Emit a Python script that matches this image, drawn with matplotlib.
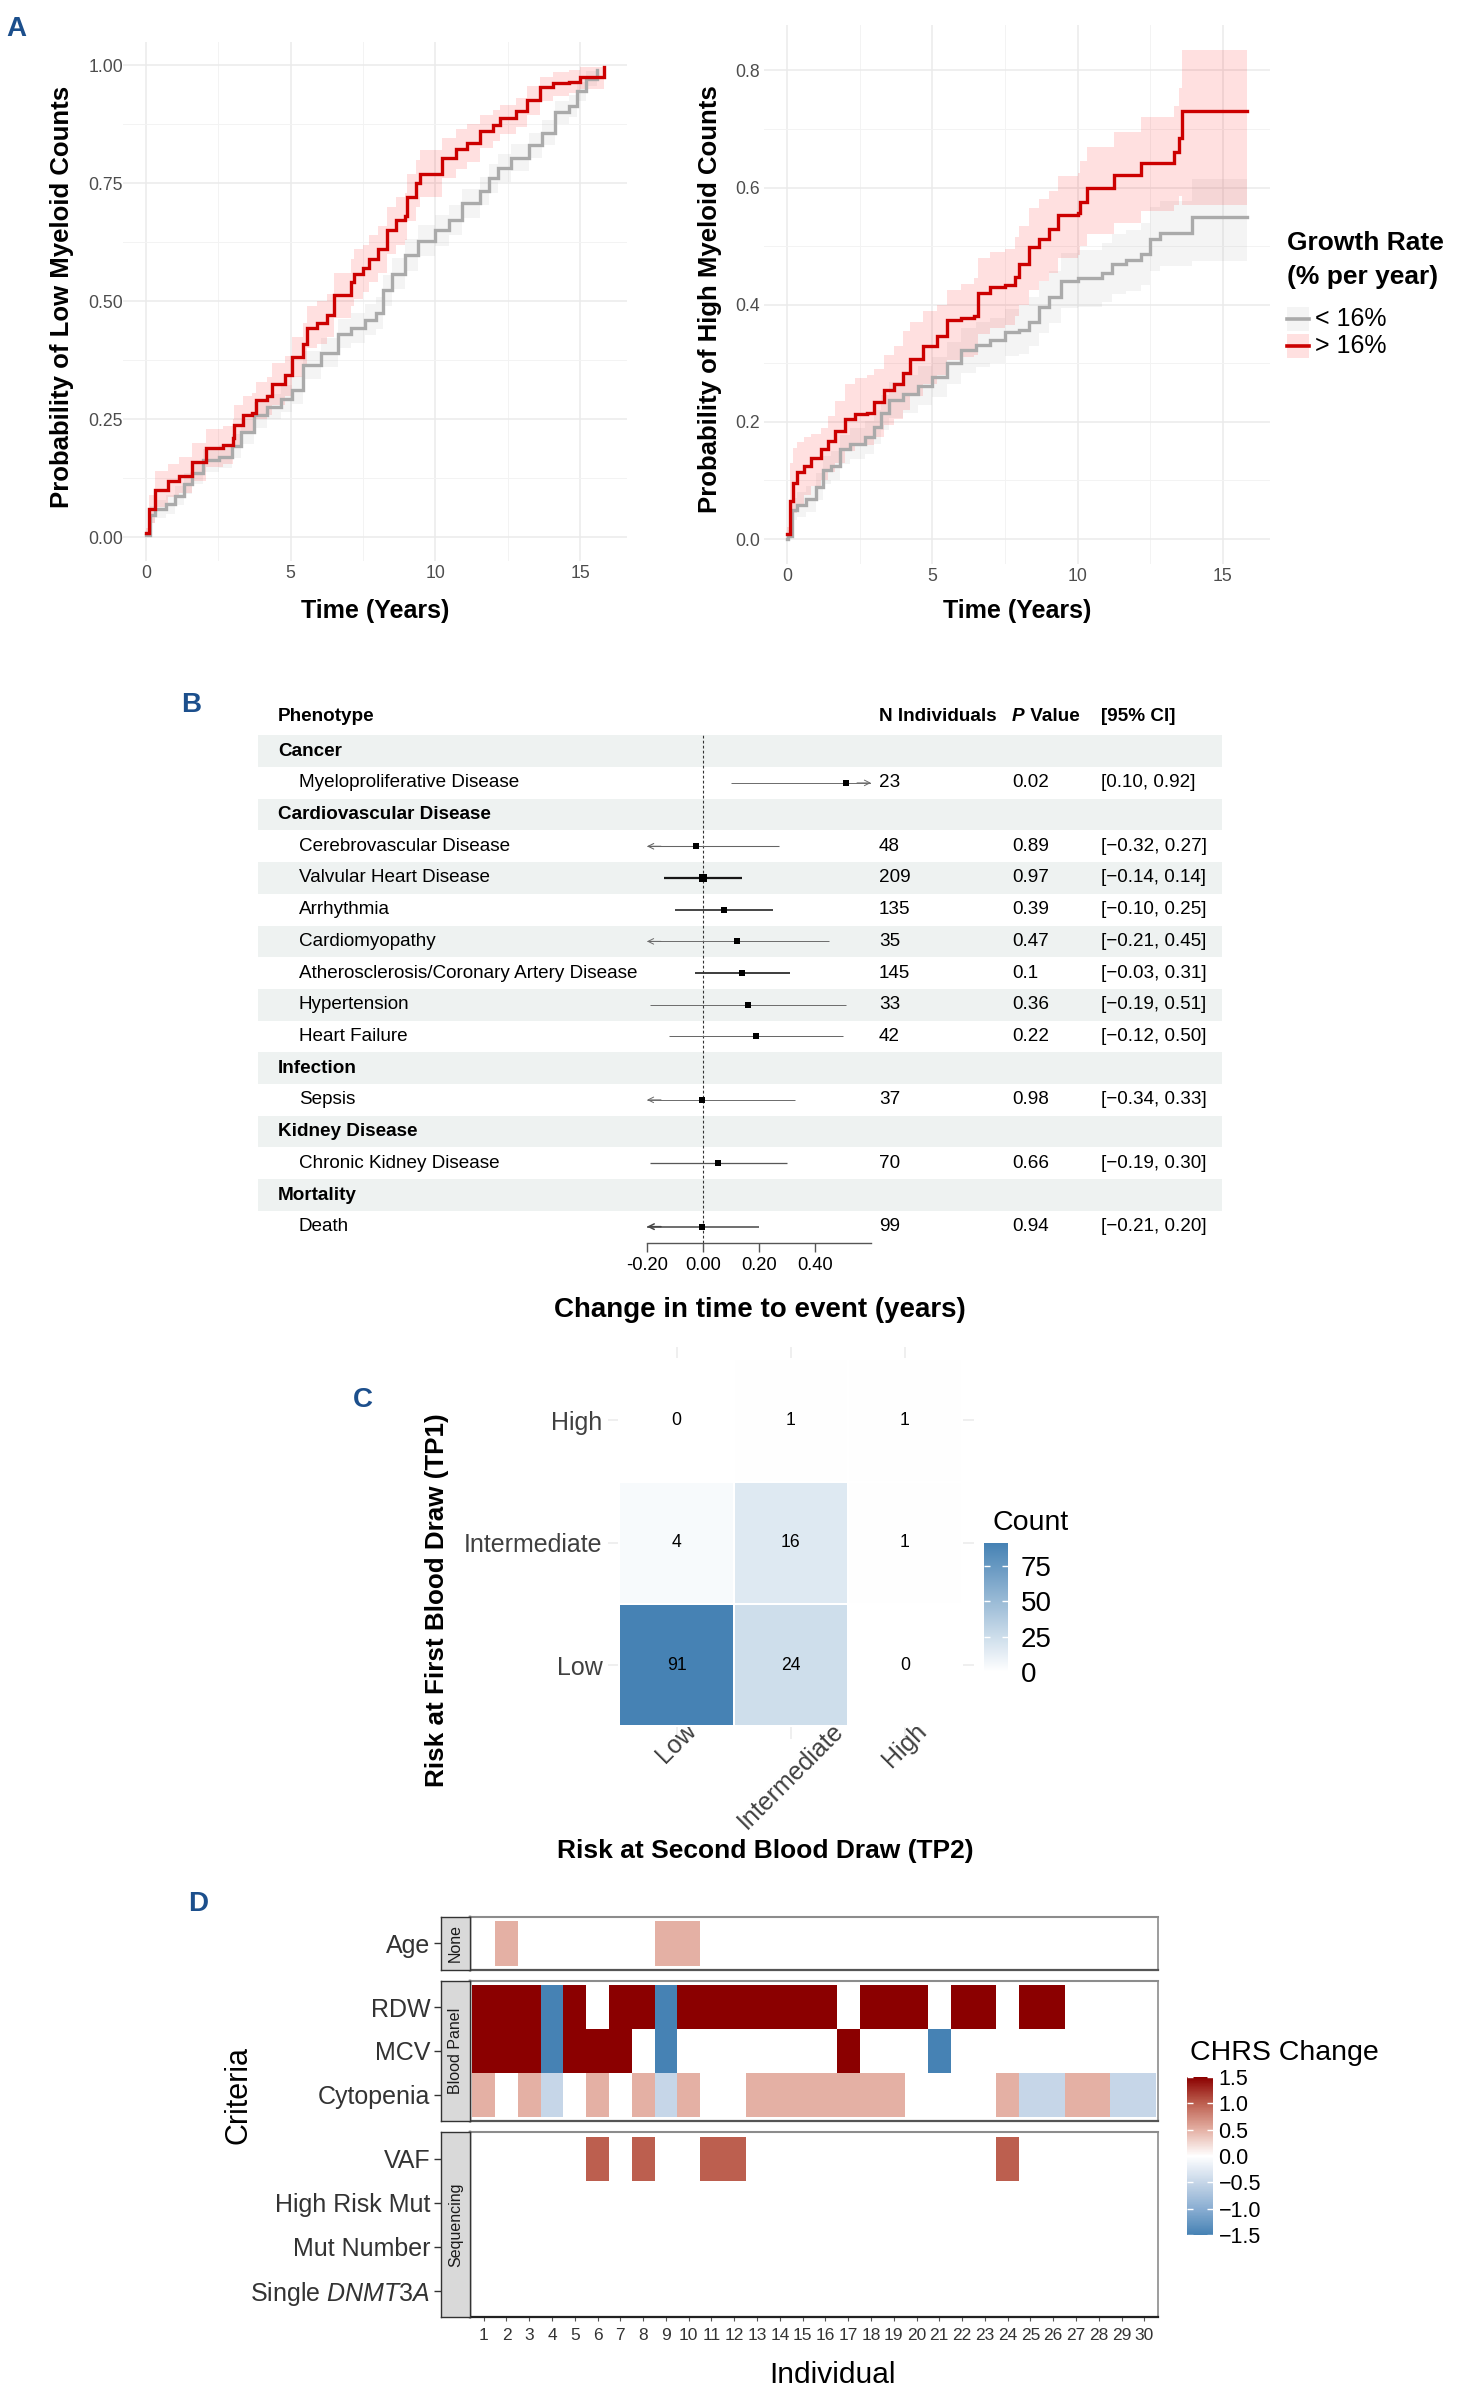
import numpy as np
import matplotlib
matplotlib.use("Agg")
import matplotlib.pyplot as plt
from matplotlib.colors import LinearSegmentedColormap, Normalize
from matplotlib.patches import Rectangle
from matplotlib.lines import Line2D
from matplotlib.transforms import offset_copy

plt.rcParams['font.family'] = ['Liberation Sans', 'DejaVu Sans']
plt.rcParams['mathtext.fontset'] = 'custom'
plt.rcParams['mathtext.rm'] = 'Liberation Sans'
plt.rcParams['mathtext.it'] = 'Liberation Sans:italic'
plt.rcParams['mathtext.bf'] = 'Liberation Sans:bold'

# ------------------------------------------------------------------ data A
# Low myeloid counts, growth rate > 16% (red)
low_red_t = [0, 0.1, 0.3, 0.76, 1.15, 1.6, 2.06, 2.68, 3.0, 3.05, 3.36, 3.67, 3.82, 4.2, 4.36, 4.82,
             5.05, 5.43, 5.58, 5.9, 6.27, 6.5, 7.1, 7.19, 7.5, 7.72, 8.03, 8.33, 8.64, 8.94, 9.02, 9.33,
             9.48, 9.94, 10.24, 10.7, 11.09, 11.54, 12.0, 12.23, 12.77, 13.15, 13.6, 14.07, 14.6, 15.0,
             15.6, 15.83]
low_red_y = [0.01, 0.06, 0.10, 0.12, 0.13, 0.16, 0.19, 0.196, 0.21, 0.237, 0.26, 0.264, 0.29, 0.30,
             0.325, 0.343, 0.382, 0.41, 0.444, 0.453, 0.47, 0.514, 0.54, 0.558, 0.571, 0.589, 0.61,
             0.65, 0.672, 0.681, 0.72, 0.751, 0.769, 0.77, 0.804, 0.822, 0.835, 0.861, 0.874, 0.887,
             0.902, 0.926, 0.953, 0.962, 0.964, 0.975, 0.975, 0.997]
low_red_lo = [0.0, 0.03, 0.065, 0.085, 0.095, 0.12, 0.15, 0.155, 0.17, 0.195, 0.22, 0.225, 0.25, 0.26,
              0.28, 0.30, 0.34, 0.365, 0.40, 0.41, 0.425, 0.465, 0.49, 0.505, 0.52, 0.54, 0.56, 0.60,
              0.62, 0.63, 0.67, 0.70, 0.72, 0.72, 0.76, 0.78, 0.795, 0.825, 0.84, 0.855, 0.87, 0.895,
              0.925, 0.935, 0.94, 0.95, 0.95, 0.95]
low_red_hi = [0.02, 0.09, 0.14, 0.155, 0.17, 0.20, 0.23, 0.235, 0.25, 0.28, 0.30, 0.305, 0.33, 0.34,
              0.37, 0.385, 0.425, 0.455, 0.49, 0.50, 0.515, 0.56, 0.59, 0.61, 0.62, 0.64, 0.66, 0.70,
              0.72, 0.73, 0.77, 0.80, 0.82, 0.82, 0.845, 0.865, 0.875, 0.895, 0.905, 0.915, 0.93,
              0.955, 0.975, 0.985, 0.99, 0.995, 0.995, 1.0]
# Low myeloid counts, growth rate < 16% (gray)
low_gray_t = [0, 0.15, 0.3, 0.69, 1.0, 1.3, 1.6, 1.99, 2.52, 2.98, 3.29, 3.75, 4.2, 4.66, 5.05, 5.43,
              6.04, 6.65, 7.1, 7.57, 7.95, 8.18, 8.49, 8.94, 9.4, 10.0, 10.47, 10.93, 11.54, 11.85,
              12.16, 12.61, 13.23, 13.68, 14.14, 14.6, 14.9, 15.2, 15.6]
low_gray_y = [0.004, 0.048, 0.06, 0.07, 0.088, 0.114, 0.136, 0.163, 0.171, 0.193, 0.224, 0.259, 0.277,
              0.294, 0.312, 0.365, 0.391, 0.431, 0.444, 0.461, 0.475, 0.523, 0.558, 0.598, 0.628, 0.65,
              0.672, 0.707, 0.734, 0.76, 0.782, 0.804, 0.83, 0.857, 0.9, 0.914, 0.945, 0.971, 0.989]
low_gray_lo = [0, 0.03, 0.04, 0.05, 0.068, 0.092, 0.113, 0.139, 0.147, 0.168, 0.198, 0.232, 0.25, 0.266,
               0.283, 0.335, 0.36, 0.40, 0.412, 0.428, 0.442, 0.49, 0.525, 0.565, 0.595, 0.618, 0.64,
               0.676, 0.704, 0.73, 0.753, 0.776, 0.803, 0.831, 0.876, 0.891, 0.925, 0.955, 0.978]
low_gray_hi = [0.01, 0.066, 0.08, 0.09, 0.108, 0.136, 0.159, 0.187, 0.195, 0.218, 0.25, 0.286, 0.304,
               0.322, 0.341, 0.395, 0.422, 0.462, 0.476, 0.494, 0.508, 0.556, 0.591, 0.631, 0.661,
               0.682, 0.704, 0.738, 0.764, 0.79, 0.811, 0.832, 0.857, 0.883, 0.924, 0.937, 0.965,
               0.987, 1.0]
# High myeloid counts, growth rate > 16% (red)
high_red_t = [0.0, 0.1, 0.2, 0.33, 0.58, 0.83, 1.17, 1.42, 1.67, 2.0, 2.33, 2.75, 3.0, 3.33, 3.67, 4.0,
              4.25, 4.67, 5.17, 5.5, 6.0, 6.42, 6.58, 7.0, 7.5, 7.83, 8.0, 8.33, 8.67, 9.0, 9.33, 10.0,
              10.08, 10.33, 11.25, 12.17, 13.3, 13.5, 13.58, 15.83]
high_red_y = [0.008, 0.065, 0.096, 0.114, 0.125, 0.139, 0.153, 0.168, 0.184, 0.205, 0.214, 0.216, 0.234,
              0.255, 0.265, 0.283, 0.308, 0.329, 0.346, 0.374, 0.378, 0.381, 0.42, 0.431, 0.434, 0.448,
              0.469, 0.498, 0.512, 0.529, 0.554, 0.557, 0.575, 0.6, 0.621, 0.642, 0.66, 0.684, 0.731,
              0.731]
high_red_lo = [0.0, 0.02, 0.045, 0.06, 0.075, 0.09, 0.10, 0.115, 0.13, 0.15, 0.16, 0.16, 0.175, 0.195,
               0.205, 0.22, 0.245, 0.265, 0.28, 0.305, 0.31, 0.315, 0.35, 0.36, 0.365, 0.38, 0.40,
               0.425, 0.44, 0.455, 0.48, 0.485, 0.50, 0.52, 0.54, 0.56, 0.57, 0.585, 0.57, 0.57]
high_red_hi = [0.02, 0.13, 0.155, 0.165, 0.175, 0.18, 0.19, 0.21, 0.235, 0.265, 0.275, 0.28, 0.29, 0.315,
               0.33, 0.355, 0.37, 0.39, 0.40, 0.425, 0.435, 0.445, 0.48, 0.49, 0.495, 0.515, 0.535,
               0.565, 0.58, 0.595, 0.62, 0.625, 0.645, 0.67, 0.695, 0.72, 0.74, 0.77, 0.835, 0.835]
# High myeloid counts, growth rate < 16% (gray)
high_gray_t = [0.0, 0.05, 0.17, 0.33, 0.67, 1.0, 1.25, 1.5, 1.83, 2.17, 2.67, 3.0, 3.25, 3.5, 4.0, 4.5,
               5.0, 5.5, 6.0, 6.5, 7.0, 7.5, 8.0, 8.33, 8.67, 9.0, 9.42, 10.0, 10.83, 11.17, 11.67,
               12.17, 12.5, 12.83, 13.92, 15.83]
high_gray_y = [0.0, 0.005, 0.05, 0.058, 0.068, 0.089, 0.118, 0.125, 0.153, 0.163, 0.174, 0.191, 0.216,
               0.237, 0.248, 0.262, 0.276, 0.3, 0.322, 0.332, 0.339, 0.353, 0.357, 0.371, 0.396, 0.413,
               0.441, 0.445, 0.455, 0.469, 0.476, 0.487, 0.512, 0.522, 0.55, 0.55]
high_gray_lo = [0.0, 0.0, 0.032, 0.038, 0.046, 0.066, 0.094, 0.1, 0.128, 0.136, 0.146, 0.162, 0.186,
                0.206, 0.216, 0.229, 0.242, 0.264, 0.284, 0.294, 0.3, 0.313, 0.316, 0.329, 0.352,
                0.368, 0.394, 0.397, 0.405, 0.418, 0.424, 0.434, 0.457, 0.466, 0.475, 0.475]
high_gray_hi = [0.0, 0.015, 0.07, 0.08, 0.09, 0.112, 0.142, 0.15, 0.178, 0.19, 0.202, 0.22, 0.246,
                0.268, 0.28, 0.295, 0.31, 0.336, 0.36, 0.37, 0.378, 0.393, 0.398, 0.413, 0.44, 0.458,
                0.488, 0.493, 0.505, 0.52, 0.528, 0.54, 0.567, 0.578, 0.615, 0.615]
growth_labels = ['< 16%', '> 16%']

# ------------------------------------------------------------------ data B
groups = ['Cancer', 'Cardiovascular Disease', 'Infection', 'Kidney Disease', 'Mortality']
phenotypes = ['Myeloproliferative Disease', 'Cerebrovascular Disease', 'Valvular Heart Disease',
              'Arrhythmia', 'Cardiomyopathy', 'Atherosclerosis/Coronary Artery Disease',
              'Hypertension', 'Heart Failure', 'Sepsis', 'Chronic Kidney Disease', 'Death']
pheno_group = ['Cancer'] + ['Cardiovascular Disease'] * 7 + ['Infection', 'Kidney Disease', 'Mortality']
n_individuals = [23, 48, 209, 135, 35, 145, 33, 42, 37, 70, 99]
p_values = ['0.02', '0.89', '0.97', '0.39', '0.47', '0.1', '0.36', '0.22', '0.98', '0.66', '0.94']
ci_low = [0.10, -0.32, -0.14, -0.10, -0.21, -0.03, -0.19, -0.12, -0.34, -0.19, -0.21]
ci_high = [0.92, 0.27, 0.14, 0.25, 0.45, 0.31, 0.51, 0.50, 0.33, 0.30, 0.20]
estimate = [0.51, -0.025, 0.0, 0.075, 0.12, 0.14, 0.16, 0.19, -0.005, 0.055, -0.005]

# ------------------------------------------------------------------ data C
risk_levels = ['Low', 'Intermediate', 'High']
# rows: risk at TP1 (Low, Intermediate, High); columns: risk at TP2 (Low, Intermediate, High)
transition_counts = [[91, 24, 0],
                     [4, 16, 1],
                     [0, 1, 1]]

# ------------------------------------------------------------------ data D
individuals = list(range(1, 31))
facets = ['None', 'Blood Panel', 'Sequencing']
facet_criteria = [['Age'],
                  ['RDW', 'MCV', 'Cytopenia'],
                  ['VAF', 'High Risk Mut', 'Mut Number', 'Single $\\mathit{DNMT3A}$']]
N = None
chrs_age = [N, 0.5, N, N, N, N, N, N, 0.5, 0.5, N, N, N, N, N, N, N, N, N, N, N, N, N, N, N, N, N, N, N, N]
chrs_rdw = [1.5, 1.5, 1.5, -1.5, 1.5, N, 1.5, 1.5, -1.5, 1.5, 1.5, 1.5, 1.5, 1.5, 1.5, 1.5, N, 1.5, 1.5,
            1.5, N, 1.5, 1.5, N, 1.5, 1.5, N, N, N, N]
chrs_mcv = [1.5, 1.5, 1.5, -1.5, 1.5, 1.5, 1.5, N, -1.5, N, N, N, N, N, N, N, 1.5, N, N, N, -1.5, N, N, N,
            N, N, N, N, N, N]
chrs_cyto = [0.5, N, 0.5, -0.5, N, 0.5, N, 0.5, -0.5, 0.5, N, N, 0.5, 0.5, 0.5, 0.5, 0.5, 0.5, 0.5, N, N,
             N, N, 0.5, -0.5, -0.5, 0.5, 0.5, -0.5, -0.5]
chrs_vaf = [N, N, N, N, N, 1.0, N, 1.0, N, N, 1.0, 1.0, N, N, N, N, N, N, N, N, N, N, N, 1.0, N, N, N, N,
            N, N]
chrs_highrisk = [N] * 30
chrs_mutnum = [N] * 30
chrs_dnmt3a = [N] * 30
facet_values = [[chrs_age], [chrs_rdw, chrs_mcv, chrs_cyto],
                [chrs_vaf, chrs_highrisk, chrs_mutnum, chrs_dnmt3a]]

# ================================================================== figure
W, H = 1459, 2405
fig = plt.figure(figsize=(W / 100, H / 100), dpi=100)


def px_ax(x0, y0, x1, y1):
    return fig.add_axes([x0 / W, 1 - y1 / H, (x1 - x0) / W, (y1 - y0) / H])


def ftext(x, y, s, **kw):
    kw.setdefault('ha', 'center')
    kw.setdefault('va', 'center')
    return fig.text(x / W, 1 - y / H, s, **kw)


TXT = '#4d4d4d'
LAB = '#1c4f8c'
RED, GRAY = '#cc0000', '#aaaaaa'
RED_FILL, GRAY_FILL = (1.0, 0.0, 0.0, 0.12), (0.6, 0.6, 0.6, 0.10)

# panel letters
for (x, y, s) in [(16, 29, 'A'), (191, 705, 'B'), (363, 1400, 'C'), (198, 1904, 'D')]:
    ftext(x, y, s, fontsize=20, fontweight='bold', color=LAB)


# ------------------------------------------------------------------ panel A
def km(ax, curves, ylim, major, labels, minor, ypad):
    for t, y, lo, hi, lc, fc in curves:
        ax.fill_between(t, lo, hi, step='post', color=fc, lw=0)
    for t, y, lo, hi, lc, fc in curves:
        ax.step(t, y, where='post', color=lc, lw=2.4, solid_joinstyle='miter')
    ax.set_xlim(-0.79, 16.62)
    ax.set_ylim(*ylim)
    ax.set_xticks([0, 5, 10, 15])
    ax.set_xticks([2.5, 7.5, 12.5], minor=True)
    ax.set_yticks(major)
    ax.set_yticklabels(labels)
    ax.set_yticks(minor, minor=True)
    ax.grid(which='major', color='#ebebeb', lw=1.1)
    ax.grid(which='minor', color='#f3f3f3', lw=0.7)
    ax.set_axisbelow(True)
    for s in ax.spines.values():
        s.set_visible(False)
    ax.tick_params(which='both', length=0, labelsize=12.7, labelcolor=TXT, pad=3)
    ax.tick_params(axis='y', pad=ypad)


axL = px_ax(123, 41.5, 627, 561)
km(axL, [(low_gray_t, low_gray_y, low_gray_lo, low_gray_hi, GRAY, GRAY_FILL),
         (low_red_t, low_red_y, low_red_lo, low_red_hi, RED, RED_FILL)],
   (-0.05, 1.05), [0, 0.25, 0.5, 0.75, 1.0], ['0.00', '0.25', '0.50', '0.75', '1.00'],
   [0.125, 0.375, 0.625, 0.875], 0)
axR = px_ax(764, 25.4, 1270, 563.6)
km(axR, [(high_gray_t, high_gray_y, high_gray_lo, high_gray_hi, GRAY, GRAY_FILL),
         (high_red_t, high_red_y, high_red_lo, high_red_hi, RED, RED_FILL)],
   (-0.042, 0.877), [0, 0.2, 0.4, 0.6, 0.8], ['0.0', '0.2', '0.4', '0.6', '0.8'],
   [0.1, 0.3, 0.5, 0.7], 3)
ftext(375, 611, 'Time (Years)', fontsize=18, fontweight='bold')
ftext(1017, 611, 'Time (Years)', fontsize=18, fontweight='bold')
ftext(62, 297, 'Probability of Low Myeloid Counts', fontsize=18.5, fontweight='bold', rotation=90)
ftext(710, 299, 'Probability of High Myeloid Counts', fontsize=18.5, fontweight='bold', rotation=90)

# legend (drawn by hand in the ggplot style)
ftext(1287, 243, 'Growth Rate', fontsize=19, fontweight='bold', ha='left')
ftext(1287, 277, '(% per year)', fontsize=19, fontweight='bold', ha='left')
for (yc, lc, fc, lab) in [(319, GRAY, GRAY_FILL, growth_labels[0]), (346, RED, RED_FILL, growth_labels[1])]:
    fig.add_artist(Rectangle((1287 / W, 1 - (yc + 12) / H), 22 / W, 24 / H, transform=fig.transFigure,
                             facecolor=fc, edgecolor='none'))
    fig.add_artist(Line2D([1287 / W, 1309 / W], [1 - yc / H, 1 - yc / H], transform=fig.transFigure,
                          color=lc, lw=2.6))
    ftext(1315, yc, lab, fontsize=18, ha='left')

# ------------------------------------------------------------------ panel B
rows = []  # (kind, label, index)
for g in groups:
    rows.append(('group', g, None))
    for i, p in enumerate(phenotypes):
        if pheno_group[i] == g:
            rows.append(('item', p, i))

ROW0, PITCH = 751.2, 31.7
tax = px_ax(250, 700, 1230, 1242.5)
tax.set_xlim(250, 1230)
tax.set_ylim((1242.5 - ROW0) / PITCH, (700 - ROW0) / PITCH)
tax.axis('off')
for r in range(len(rows)):
    if r % 2 == 0:
        tax.barh(r, 964, left=258, height=1.0, color='#eef2f1', lw=0)

FS = 13.6
hy = -1.08
tax.text(278, hy, 'Phenotype', fontsize=FS, fontweight='bold', va='center')
tax.text(879, hy, 'N Individuals', fontsize=FS, fontweight='bold', va='center')
tP = tax.text(1012, hy, 'P', fontsize=FS, fontweight='bold', fontstyle='italic', va='center')
renderer = fig.canvas.get_renderer()
wP = tP.get_window_extent(renderer=renderer).width
tax.text(1012, hy, ' Value', fontsize=FS, fontweight='bold', va='center',
         transform=offset_copy(tax.transData, fig=fig, x=wP, y=0, units='dots'))
tax.text(1101, hy, '[95% CI]', fontsize=FS, fontweight='bold', va='center')


def fmt_ci(v):
    return ('%.2f' % v).replace('-', '\u2212')


for r, (kind, label, idx) in enumerate(rows):
    if kind == 'group':
        tax.text(278, r, label, fontsize=FS, fontweight='bold', va='center')
    else:
        tax.text(299, r, label, fontsize=FS, va='center')
        tax.text(879, r, str(n_individuals[idx]), fontsize=FS, va='center')
        tax.text(1012, r, p_values[idx], fontsize=FS, va='center')
        tax.text(1101, r, '[%s, %s]' % (fmt_ci(ci_low[idx]), fmt_ci(ci_high[idx])), fontsize=FS, va='center')

fax = px_ax(647, 735.35, 871, 1242.5)
fax.patch.set_visible(False)
XMIN, XMAX = -0.2, 0.6
fax.set_xlim(XMIN, XMAX)
fax.set_ylim(15.5, -0.5)
fax.axvline(0, color='#333333', lw=0.8, ls=(0, (2.5, 2)))
for r, (kind, label, idx) in enumerate(rows):
    if kind != 'item':
        continue
    lo, hi, est = ci_low[idx], ci_high[idx], estimate[idx]
    lw = float(np.clip(0.45 / (hi - lo), 0.7, 1.8))
    g = float(np.clip(0.42 - 0.4 * (lw - 0.7) / 1.1, 0.05, 0.42))
    col = (g, g, g)
    a, b = max(lo, XMIN), min(hi, XMAX)
    fax.plot([a, b], [r, r], color=col, lw=lw, solid_capstyle='butt')
    if lo < XMIN:
        fax.annotate('', xy=(XMIN, r), xytext=(XMIN + 0.05, r),
                     arrowprops=dict(arrowstyle='->', color=col, lw=lw, shrinkA=0, shrinkB=0,
                                     mutation_scale=10))
    if hi > XMAX:
        fax.annotate('', xy=(XMAX, r), xytext=(XMAX - 0.05, r),
                     arrowprops=dict(arrowstyle='->', color=col, lw=lw, shrinkA=0, shrinkB=0,
                                     mutation_scale=10))
    fax.plot([est], [r], marker='s', color='black', ms=3.6 + lw * 0.9, mew=0)
for s in ['top', 'right', 'left']:
    fax.spines[s].set_visible(False)
fax.spines['bottom'].set_color('#555555')
fax.spines['bottom'].set_linewidth(1.0)
fax.set_yticks([])
fax.set_xticks([-0.2, 0.0, 0.2, 0.4])
fax.set_xticklabels(['-0.20', '0.00', '0.20', '0.40'])
fax.tick_params(axis='x', length=6.5, width=1.0, color='#555555', labelsize=13.2, pad=4, labelcolor='black')
ftext(760, 1310, 'Change in time to event (years)', fontsize=20, fontweight='bold')

# ------------------------------------------------------------------ panel C
cax_h = px_ax(608, 1347, 973.5, 1738.5)
cmapC = LinearSegmentedColormap.from_list('blues', ['#ffffff', '#4682b4'])
counts = np.array(transition_counts, dtype=float)
edges = np.arange(0.5, len(risk_levels) + 1.0, 1.0)
meshC = cax_h.pcolormesh(edges, edges, counts, cmap=cmapC, vmin=0, vmax=counts.max(),
                         edgecolors='white', linewidth=1.2, zorder=2)
for i in range(len(risk_levels)):
    for j in range(len(risk_levels)):
        cax_h.text(j + 1, i + 1, '%d' % transition_counts[i][j], ha='center', va='center',
                   fontsize=12.7, color='black', zorder=3)
cax_h.set_xlim(0.4, 3.6)
cax_h.set_ylim(0.4, 3.6)
cax_h.set_xticks(range(1, 4))
cax_h.set_yticks(range(1, 4))
cax_h.set_xticklabels(risk_levels, rotation=45, ha='center', va='top')
cax_h.set_yticklabels(risk_levels)
cax_h.grid(color='#ebebeb', lw=1.1, zorder=0)
cax_h.set_axisbelow(True)
for s in cax_h.spines.values():
    s.set_visible(False)
cax_h.tick_params(axis='both', length=0, labelsize=18, labelcolor='#404040')
cax_h.tick_params(axis='y', pad=4)
cax_h.tick_params(axis='x', pad=-14.5)
ftext(437, 1600, 'Risk at First Blood Draw (TP1)', fontsize=18.7, fontweight='bold', rotation=90)
ftext(765, 1851, 'Risk at Second Blood Draw (TP2)', fontsize=19, fontweight='bold')

cbC = px_ax(984, 1543, 1008, 1672)
cb1 = fig.colorbar(meshC, cax=cbC, ticks=[0, 25, 50, 75])
cb1.outline.set_visible(False)
cbC.tick_params(axis='y', direction='in', length=4, width=1, color='white', left=True, right=True,
                labelsize=20, pad=9)
ftext(993, 1523, 'Count', fontsize=20.5, ha='left')

# ------------------------------------------------------------------ panel D
cmapD = LinearSegmentedColormap.from_list(
    'chrs', [(0.0, '#4682b4'), (1 / 6, '#8aaed2'), (1 / 3, '#c6d6e8'), (0.5, '#ffffff'),
             (2 / 3, '#e4b0a4'), (5 / 6, '#bd6050'), (1.0, '#8b0000')])
normD = Normalize(vmin=-1.5, vmax=1.5)
facet_y = [(1916.7, 1970), (1980.7, 2121), (2132.3, 2317.3)]
xedges = np.arange(0.5, len(individuals) + 1.0, 1.0)
meshD = None
for f, (y0, y1) in enumerate(facet_y):
    crit = facet_criteria[f]
    n = len(crit)
    vals = np.array(facet_values[f], dtype=float)
    ax = px_ax(470, y0, 1158, y1)
    yedges = np.arange(0.5, n + 1.0, 1.0)
    meshD = ax.pcolormesh(xedges, yedges, np.ma.masked_invalid(vals), cmap=cmapD, norm=normD,
                          linewidth=0)
    ax.set_xlim(0.4, 30.6)
    ax.set_ylim(n + 0.6, 0.4)
    ax.set_yticks([])
    ax.spines['left'].set_color('black')
    ax.spines['left'].set_linewidth(1.7)
    ax.spines['bottom'].set_color('#222222' if f == 2 else '#555555')
    ax.spines['bottom'].set_linewidth(1.6)
    ax.spines['top'].set_color('#8c8c8c')
    ax.spines['top'].set_linewidth(1.5)
    ax.spines['right'].set_color('#8c8c8c')
    ax.spines['right'].set_linewidth(1.2)
    ax.set_xticks(individuals)
    if f == 2:
        ax.set_xticklabels([str(i) for i in individuals])
        ax.tick_params(axis='x', length=3, width=0.8, color='#555555', labelsize=12.5,
                       labelcolor='#333333', pad=5)
    else:
        ax.tick_params(axis='x', length=0, labelbottom=False)
    # strip
    sx = px_ax(441.3, y0, 470, y1)
    sx.set_facecolor('#d9d9d9')
    sx.set_xlim(0, 1)
    sx.set_ylim(n + 0.6, 0.4)
    sx.set_xticks([])
    sx.set_yticks(range(1, n + 1))
    sx.set_yticklabels(crit)
    sx.tick_params(axis='y', length=5, width=1, color='#333333', labelsize=18, labelcolor='#333333', pad=3)
    for s in sx.spines.values():
        s.set_color('#333333')
        s.set_linewidth(1.0)
    sx.text(0.5, (n + 1) / 2.0, facets[f], rotation=90, ha='center', va='center', fontsize=11.5,
            color='#1a1a1a')

ftext(239, 2095, 'Criteria', fontsize=22, rotation=90)
ftext(833, 2375, 'Individual', fontsize=21.5)
ftext(1190, 2053, 'CHRS Change', fontsize=20.5, ha='left')
cbD = px_ax(1187, 2077, 1213, 2235)
cb2 = fig.colorbar(meshD, cax=cbD, ticks=[1.5, 1.0, 0.5, 0.0, -0.5, -1.0, -1.5])
cb2.outline.set_visible(False)
cbD.set_yticklabels(['1.5', '1.0', '0.5', '0.0', '\u22120.5', '\u22121.0', '\u22121.5'])
cbD.tick_params(axis='y', direction='in', length=4, width=1, color='white', left=True, right=True,
                labelsize=15.5, pad=4)

fig.savefig('out.png', dpi=100)
